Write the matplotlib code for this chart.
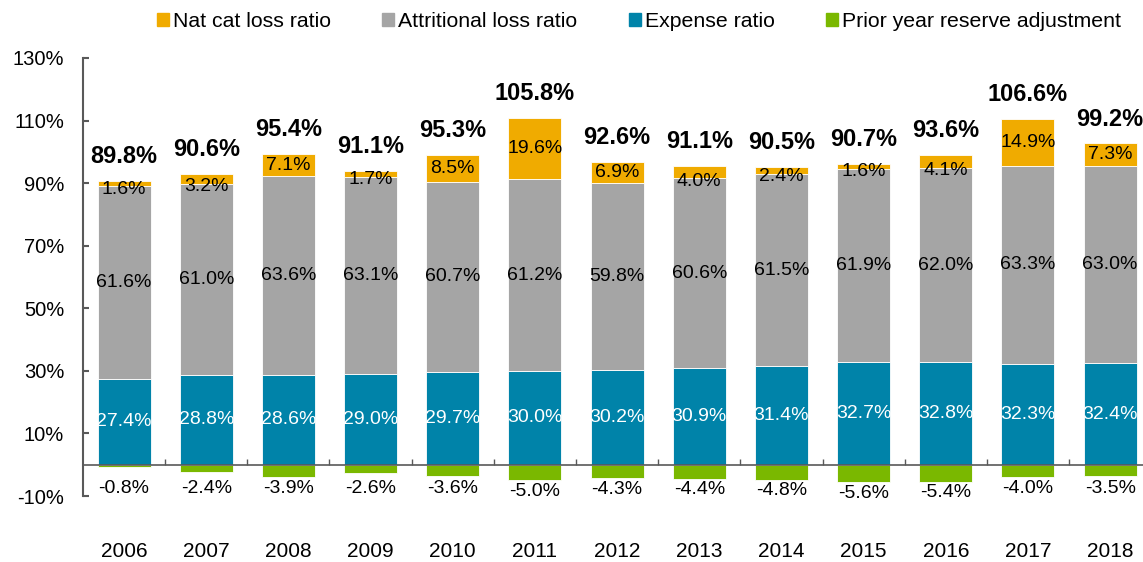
import matplotlib.pyplot as plt
from matplotlib.patches import Patch
import numpy as np

plt.rcParams['font.family'] = ['Liberation Sans', 'DejaVu Sans']

years = ['2006', '2007', '2008', '2009', '2010', '2011', '2012',
         '2013', '2014', '2015', '2016', '2017', '2018']
expense = [27.4, 28.8, 28.6, 29.0, 29.7, 30.0, 30.2, 30.9, 31.4, 32.7, 32.8, 32.3, 32.4]
attritional = [61.6, 61.0, 63.6, 63.1, 60.7, 61.2, 59.8, 60.6, 61.5, 61.9, 62.0, 63.3, 63.0]
nat_cat = [1.6, 3.2, 7.1, 1.7, 8.5, 19.6, 6.9, 4.0, 2.4, 1.6, 4.1, 14.9, 7.3]
prior_year = [-0.8, -2.4, -3.9, -2.6, -3.6, -5.0, -4.3, -4.4, -4.8, -5.6, -5.4, -4.0, -3.5]
combined = [89.8, 90.6, 95.4, 91.1, 95.3, 105.8, 92.6, 91.1, 90.5, 90.7, 93.6, 106.6, 99.2]

c_nat = '#F0AB00'
c_att = '#A5A5A5'
c_exp = '#0083A9'
c_py = '#7AB800'
c_axis = '#595959'

x = np.arange(len(years))
exp = np.array(expense)
att = np.array(attritional)
nat = np.array(nat_cat)
py = np.array(prior_year)

fig = plt.figure(figsize=(11.43, 5.62), dpi=100)
ax = fig.add_axes([0.0726, 0.1174, 0.9274, 0.7794])

w = 0.645
ec = dict(edgecolor='white', linewidth=0.6)
ax.bar(x, exp, w, color=c_exp, **ec)
ax.bar(x, att, w, bottom=exp, color=c_att, **ec)
ax.bar(x, nat, w, bottom=exp + att, color=c_nat, **ec)
ax.bar(x, py, w, color=c_py, **ec)

fs = 14
for i in range(len(x)):
    ax.text(x[i], exp[i] / 2, f'{expense[i]:.1f}%', ha='center', va='center',
            color='white', fontsize=fs, clip_on=False)
    ax.text(x[i], exp[i] + att[i] / 2, f'{attritional[i]:.1f}%', ha='center',
            va='center', color='black', fontsize=fs)
    base = exp[i] + att[i]
    ny = base + nat[i] / 2 if nat[i] >= 5 else base - 0.9
    ax.text(x[i], ny, f'{nat_cat[i]:.1f}%', ha='center', va='center',
            color='black', fontsize=fs)
    ax.text(x[i], min(py[i] - 3.5, -7.5), f'{prior_year[i]:.1f}%', ha='center',
            va='center', color='black', fontsize=fs)
    top = base + nat[i]
    ax.text(x[i], top + 7.8, f'{combined[i]:.1f}%', ha='center', va='center',
            color='black', fontsize=17, fontweight='bold')
    ax.annotate(years[i], xy=(x[i], 0), xycoords=('data', 'axes fraction'),
                xytext=(0, -40), textcoords='offset points', ha='center',
                va='center', fontsize=15)

ax.set_xlim(-0.5, 12.4)
ax.set_ylim(-10, 130)
ax.set_yticks(range(-10, 131, 20))
ax.set_yticklabels([f'{v}%' for v in range(-10, 131, 20)])
ax.tick_params(axis='y', direction='in', length=4.5, width=1.5, color=c_axis,
               labelsize=14.5, pad=13.5)

ax.spines['top'].set_visible(False)
ax.spines['right'].set_visible(False)
ax.spines['left'].set_color(c_axis)
ax.spines['left'].set_linewidth(1.5)
ax.spines['bottom'].set_position(('data', 0))
ax.spines['bottom'].set_color(c_axis)
ax.spines['bottom'].set_linewidth(1.2)
ax.set_xticks(x[:-1] + 0.5)
ax.set_xticklabels([])
ax.tick_params(axis='x', direction='in', length=4, width=1, color=c_axis)

handles = [Patch(color=c_nat, label='Nat cat loss ratio'),
           Patch(color=c_att, label='Attritional loss ratio'),
           Patch(color=c_exp, label='Expense ratio'),
           Patch(color=c_py, label='Prior year reserve adjustment')]
fig.legend(handles=handles, loc='center', bbox_to_anchor=(0.559, 0.962), ncol=4,
           frameon=False, fontsize=15.3, handlelength=0.57, handleheight=0.57,
           handletextpad=0.2, columnspacing=2.4)

fig.savefig('out.png', dpi=100)
